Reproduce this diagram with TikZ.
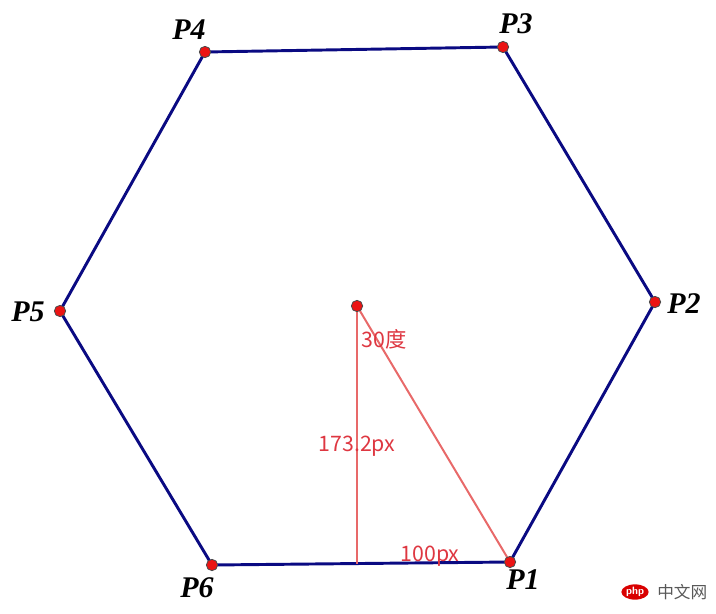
\documentclass[tikz,border=0pt]{standalone}
\usepackage{fontspec}
\setmainfont{Liberation Serif}
\newfontfamily\cjk{Noto Sans CJK SC}
\usetikzlibrary{calc,shapes.geometric}
\definecolor{hexblue}{RGB}{10,10,130}
\definecolor{guide}{RGB}{232,105,105}
\definecolor{guidetext}{RGB}{222,55,65}
\definecolor{dotred}{RGB}{235,20,20}
\begin{document}
\begin{tikzpicture}[x=0.75pt,y=-0.75pt]
\tikzset{V/.style={circle,draw=black!70,fill=dotred,inner sep=0pt,minimum size=8.5pt,line width=0.6pt},
L/.style={font=\fontsize{22.5}{22.5}\selectfont\bfseries\itshape},
R/.style={font=\cjk\fontsize{16}{16}\selectfont,text=guidetext,inner sep=0pt}
}
\useasboundingbox (0,0) rectangle (716,613);

% The vertices
\coordinate (p1) at (510,562);
\coordinate (p2) at (655,302);
\coordinate (p3) at (503,47);
\coordinate (p4) at (205,52);
\coordinate (p5) at (60,311);
\coordinate (p6) at (212,565);
\coordinate (o) at (357,306);
\coordinate (f) at (357,564);

% The hexagon
\draw[hexblue,line width=2.2pt,line join=round] (p1)--(p2)--(p3)--(p4)--(p5)--(p6)--cycle;

% Triangle inside
\draw[guide,line width=1.5pt] (o)--(f);
\draw[guide,line width=1.5pt] (o)--(p1);

% Points
\foreach \p in {p1,p2,p3,p4,p5,p6,o}
\node[V] at (\p) {};

% Labels
\node[L] (l1) at (523,580) {P1};
\node[L] (l2) at (684,304) {P2};
\node[L] (l3) at (516,24) {P3};
\node[L] (l4) at (189,30) {P4};
\node[L] (l5) at (28,312) {P5};
\node[L] (l6) at (197,588) {P6};

\node[R] (ang) at (384,339) {30度};
\node[R] (hgt) at (357,446) {173.2px};
\node[R] (wid) at (430,556) {100px};

% watermark
\node[ellipse,fill=red!85!black,text=white,inner sep=0.5pt,font=\sffamily\bfseries\fontsize{8}{8}\selectfont] (php) at (635,592) {php};
\node[anchor=west,text=black!65,font=\cjk\fontsize{12.5}{12.5}\selectfont,inner sep=0pt] (cn) at (657,592) {中文网};

\end{tikzpicture}
\end{document}
